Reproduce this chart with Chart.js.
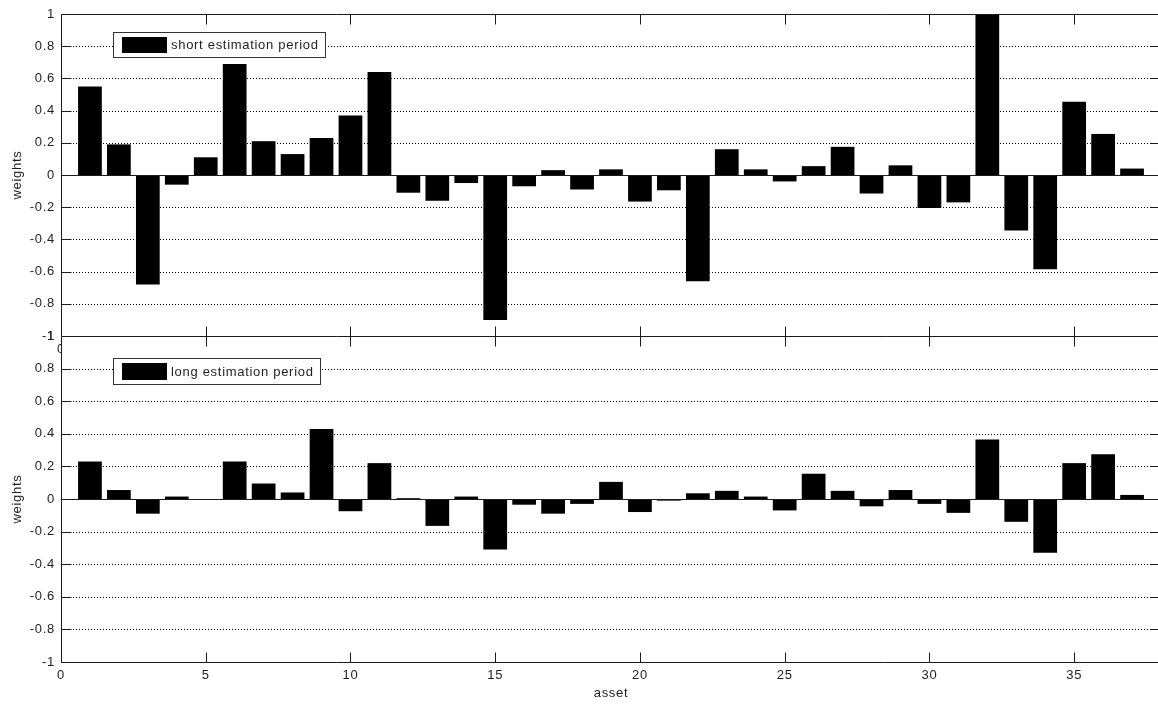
<!DOCTYPE html>
<html>
<head>
<meta charset="utf-8">
<script src="https://cdn.jsdelivr.net/npm/chart.js@4.4.1/dist/chart.umd.min.js"></script>
<style>
html,body{margin:0;padding:0;background:#fff;overflow:hidden;width:1158px;height:704px;}
#topChart{position:absolute;left:0;top:0;}
#bottomChart{position:absolute;left:0;top:320px;}
</style>
</head>
<body>
<canvas id="topChart" width="1162" height="370"></canvas>
<canvas id="bottomChart" width="1162" height="384"></canvas>
<script>
// ---------------- data ----------------
const assets = [1,2,3,4,5,6,7,8,9,10,11,12,13,14,15,16,17,18,19,20,21,22,23,24,25,26,27,28,29,30,31,32,33,34,35,36,37];
const shortWeights = [0.55,0.19,-0.68,-0.06,0.11,0.69,0.21,0.13,0.23,0.37,0.64,-0.11,-0.16,-0.05,-0.90,-0.07,0.03,-0.09,0.035,-0.165,-0.095,-0.66,0.16,0.035,-0.04,0.055,0.175,-0.115,0.06,-0.205,-0.17,1.0,-0.345,-0.585,0.455,0.255,0.04];
const longWeights = [0.23,0.055,-0.09,0.015,0,0.23,0.095,0.04,0.43,-0.075,0.22,0.005,-0.165,0.015,-0.31,-0.035,-0.09,-0.03,0.105,-0.08,-0.01,0.035,0.05,0.015,-0.07,0.155,0.05,-0.045,0.055,-0.03,-0.085,0.365,-0.14,-0.33,0.22,0.275,0.025];
const xTickValues = [0,5,10,15,20,25,30,35];
const yTickValues = [-1,-0.8,-0.6,-0.4,-0.2,0,0.2,0.4,0.6,0.8,1];
const seriesNames = ['short estimation period','long estimation period'];
const xTitle = 'asset';
const yTitle = 'weights';

// ---------------- styling ----------------
const TEXT = '#1e1e1e';
const FAMILY = "'Liberation Sans', Arial, sans-serif";
const SPACING = '0.7px';
Chart.defaults.font.family = FAMILY;
Chart.defaults.font.size = 13;
Chart.defaults.color = TEXT;

const matlabAxes = {
  id: 'matlabAxes',
  beforeUpdate(chart){ chart.ctx.letterSpacing = SPACING; },
  beforeDraw(chart){
    const {ctx, chartArea:a} = chart;
    ctx.letterSpacing = SPACING;
    ctx.save();
    ctx.fillStyle = '#fff';
    ctx.fillRect(a.left, a.top, a.right - a.left, a.bottom - a.top);
    ctx.restore();
  },
  beforeDatasetsDraw(chart){
    const {ctx, chartArea:a, scales} = chart;
    const ys = scales.y;
    ctx.save();
    ctx.strokeStyle = '#000';
    ctx.lineWidth = 1;
    ctx.setLineDash([1,2]);
    yTickValues.forEach(v => {
      if (Math.abs(v) > 0.99) return;
      const py = Math.round(ys.getPixelForValue(v)) + 0.5;
      ctx.beginPath();
      ctx.moveTo(a.left, py);
      ctx.lineTo(a.right, py);
      ctx.stroke();
    });
    ctx.restore();
  },
  afterDatasetsDraw(chart, args, opts){
    const {ctx, chartArea:a, scales} = chart;
    const xs = scales.x, ys = scales.y;
    const L = Math.round(a.left) + 0.5, R = Math.round(a.right) - 0.5;
    const T = Math.round(a.top) + 0.5, B = Math.round(a.bottom) + 0.5;
    ctx.save();
    ctx.strokeStyle = '#1a1a1a';
    ctx.lineWidth = 1;
    ctx.setLineDash([]);
    // zero baseline
    const z = Math.round(ys.getPixelForValue(0)) + 0.5;
    ctx.beginPath(); ctx.moveTo(L, z); ctx.lineTo(R, z); ctx.stroke();
    // frame
    ctx.beginPath();
    ctx.moveTo(L, T); ctx.lineTo(R, T); ctx.lineTo(R, B); ctx.lineTo(L, B); ctx.closePath();
    ctx.stroke();
    // inward ticks
    const tl = 10;
    ctx.beginPath();
    xTickValues.forEach(v => {
      const px = Math.round(xs.getPixelForValue(v)) + 0.5;
      if (px <= L + 1) return;
      ctx.moveTo(px, T); ctx.lineTo(px, T + tl);
      ctx.moveTo(px, B); ctx.lineTo(px, B - tl);
    });
    yTickValues.forEach(v => {
      const py = Math.round(ys.getPixelForValue(v)) + 0.5;
      ctx.moveTo(L, py); ctx.lineTo(L + tl, py);
      ctx.moveTo(R, py); ctx.lineTo(R - tl, py);
    });
    ctx.stroke();
    // legend box
    const bx = Math.round(a.left + opts.dx) + 0.5;
    const by = Math.round(a.top + opts.dy) + 0.5;
    ctx.font = "13px " + FAMILY;
    ctx.letterSpacing = SPACING;
    const tw = ctx.measureText(opts.label).width;
    const bw = Math.round(9 + 45 + 4 + tw + 6);
    const bh = opts.h;
    ctx.fillStyle = '#fff';
    ctx.fillRect(bx, by, bw, bh);
    ctx.strokeStyle = '#333';
    ctx.strokeRect(bx, by, bw, bh);
    ctx.fillStyle = '#000';
    ctx.fillRect(bx + 8.5, by + 4.5, 45, bh - 9);
    ctx.fillStyle = TEXT;
    ctx.textAlign = 'left';
    ctx.textBaseline = 'middle';
    ctx.fillText(opts.label, bx + 57.5, by + bh / 2 + 0.5);
    ctx.restore();
  }
};

function makeChart(id, values, label, opts){
  return new Chart(document.getElementById(id), {
    type: 'bar',
    data: {
      datasets: [{
        label: label,
        data: assets.map((a, i) => ({x: a, y: values[i]})),
        backgroundColor: '#000',
        borderWidth: 0,
        barPercentage: 0.82,
        categoryPercentage: 1
      }]
    },
    options: {
      responsive: false,
      animation: false,
      events: [],
      layout: {padding: {top: opts.padTop, right: 1, left: 0, bottom: 0}},
      plugins: {
        legend: {display: false},
        tooltip: {enabled: false},
        matlabAxes: {dx: 52, dy: opts.legendDy, h: opts.legendH, label: label}
      },
      scales: {
        x: {
          type: 'linear',
          offset: false,
          min: 0, max: 38,
          afterBuildTicks: s => { s.ticks = xTickValues.map(v => ({value: v})); },
          afterFit: s => { s.height = opts.xHeight; },
          ticks: {padding: 6, maxRotation: 0, autoSkip: false, callback: v => String(v)},
          grid: {display: false, drawTicks: false, offset: false},
          border: {display: false},
          title: {display: opts.showXTitle, text: xTitle, padding: {top: 0, bottom: 3}}
        },
        y: {
          min: -1, max: 1,
          afterBuildTicks: s => { s.ticks = yTickValues.map(v => ({value: v})); },
          afterFit: s => { s.width = 61; },
          ticks: {padding: 6, callback: v => String(+(+v).toFixed(1))},
          grid: {display: false, drawTicks: false},
          border: {display: false},
          title: {display: true, text: yTitle, padding: {top: 10, bottom: 0}}
        }
      }
    },
    plugins: [matlabAxes]
  });
}

makeChart('topChart', shortWeights, seriesNames[0], {padTop: 14, xHeight: 34, legendDy: 18, legendH: 25, showXTitle: false});
makeChart('bottomChart', longWeights, seriesNames[1], {padTop: 16, xHeight: 42, legendDy: 22, legendH: 26, showXTitle: true});
</script>
</body>
</html>
